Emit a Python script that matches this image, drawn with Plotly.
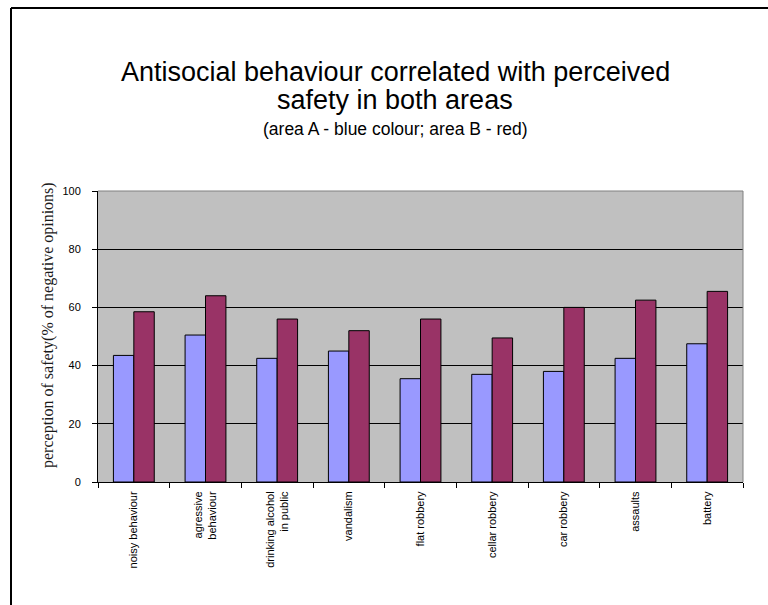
import plotly.graph_objects as go

# Survey categories and share of negative safety opinions per area (%)
categories = [
    "noisy behaviour",
    "agressive<br>behaviour",
    "drinking alcohol<br>in public",
    "vandalism",
    "flat robbery",
    "cellar robbery",
    "car robbery",
    "assaults",
    "battery",
]
area_a = [43.5, 50.5, 42.5, 45.0, 35.5, 37.0, 38.0, 42.5, 47.5]
area_b = [58.5, 64.0, 56.0, 52.0, 56.0, 49.5, 60.0, 62.5, 65.5]
y_ticks = [0, 20, 40, 60, 80, 100]
title_lines = ["Antisocial behaviour correlated with perceived", "safety in both areas"]
subtitle = "(area A - blue colour; area B - red)"

W, H = 768, 605
ML, MR, MT, MB = 98, 25, 191, 123
PW, PH = W - ML - MR, H - MT - MB


def px_x(x):
    return (x - ML) / PW


def px_y(y):
    return 1 - (y - MT) / PH


fig = go.Figure()
fig.add_trace(go.Bar(
    x=categories, y=area_a, name="area A",
    marker=dict(color="#9999FF", line=dict(color="#000000", width=1)),
))
fig.add_trace(go.Bar(
    x=categories, y=area_b, name="area B",
    marker=dict(color="#993366", line=dict(color="#000000", width=1)),
))

sans = "Liberation Sans, Arial, sans-serif"

fig.update_layout(
    width=W, height=H,
    margin=dict(l=ML, r=MR, t=MT, b=MB, pad=0),
    paper_bgcolor="#FFFFFF",
    plot_bgcolor="#C0C0C0",
    barmode="group",
    bargap=0.43,
    bargroupgap=0,
    showlegend=False,
    font=dict(family=sans, color="#000000"),
    xaxis=dict(
        type="category",
        tickangle=-90,
        tickfont=dict(family=sans, size=11, color="#000000"),
        showline=True, linecolor="#000000", linewidth=1,
        ticks="outside", tickson="boundaries", ticklen=5,
        tickcolor="#000000", tickwidth=1,
        ticklabelstandoff=4,
        showgrid=False,
        fixedrange=True,
    ),
    yaxis=dict(
        range=[0, 100],
        tickvals=y_ticks,
        tickfont=dict(family=sans, size=11, color="#000000"),
        showline=True, linecolor="#000000", linewidth=1,
        ticks="outside", ticklen=5, tickcolor="#000000", tickwidth=1,
        ticklabelstandoff=9,
        showgrid=True, gridcolor="#000000", gridwidth=1,
        zeroline=False,
        fixedrange=True,
    ),
)

# Title block (two lines plus subtitle) and the serif y-axis caption
for line, ypos in zip(title_lines, [72, 100]):
    fig.add_annotation(
        text=line,
        xref="paper", yref="paper", x=px_x(395), y=px_y(ypos),
        xanchor="center", yanchor="middle", showarrow=False,
        font=dict(family=sans, size=27, color="#000000"),
    )
fig.add_annotation(
    text=subtitle,
    xref="paper", yref="paper", x=px_x(395), y=px_y(129),
    xanchor="center", yanchor="middle", showarrow=False,
    font=dict(family=sans, size=17.5, color="#000000"),
)
fig.add_annotation(
    text="perception of safety(% of negative opinions)",
    xref="paper", yref="paper", x=px_x(48), y=px_y(325),
    xanchor="center", yanchor="middle", showarrow=False, textangle=-90,
    font=dict(family="Liberation Serif, Times New Roman, serif", size=16, color="#1a1a1a"),
)

# Plot-area frame on the top and right, chart frame on the top and left
fig.add_shape(type="line", xref="paper", yref="paper", x0=0, x1=1, y0=1, y1=1,
              line=dict(color="#808080", width=1), layer="above")
fig.add_shape(type="line", xref="paper", yref="paper", x0=1, x1=1, y0=0, y1=1,
              line=dict(color="#808080", width=1), layer="above")
fig.add_shape(type="line", xref="paper", yref="paper",
              x0=px_x(11), x1=px_x(W + 10), y0=px_y(8), y1=px_y(8),
              line=dict(color="#000000", width=2))
fig.add_shape(type="line", xref="paper", yref="paper",
              x0=px_x(11), x1=px_x(11), y0=px_y(8), y1=px_y(H + 10),
              line=dict(color="#000000", width=2))

fig.write_html("out.html")
